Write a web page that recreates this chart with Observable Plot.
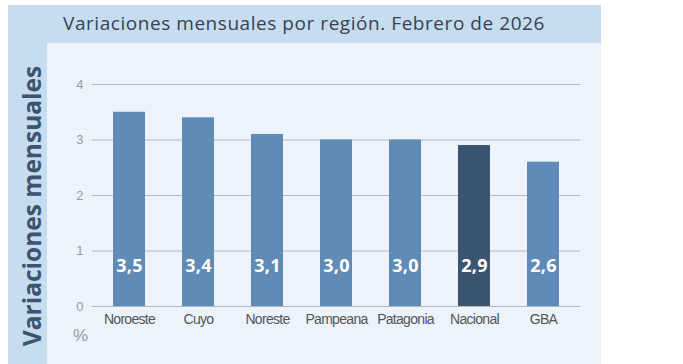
<!DOCTYPE html>
<html>
<head>
<meta charset="utf-8">
<script src="https://cdn.jsdelivr.net/npm/d3@7"></script>
<script src="https://cdn.jsdelivr.net/npm/@observablehq/plot@0.6"></script>
<style>
  html, body { margin: 0; padding: 0; background: #ffffff; }
  #wrap { position: relative; width: 683px; height: 364px; overflow: hidden; }
  .band { position: absolute; background: #c6dcef; }
  #panel { position: absolute; left: 47px; top: 43px; width: 554px; height: 321px; background: #ecf3fa; }
  #title { position: absolute; left: 63px; top: 11px; font-family: "Open Sans", sans-serif; font-size: 19px; letter-spacing: 0.55px; color: #3a4150; white-space: nowrap; line-height: 24px; }
  #ytitle { position: absolute; left: 8px; top: 43px; }
  #pct { position: absolute; left: 73px; top: 326px; font-family: "Liberation Sans", Arial, sans-serif; font-size: 17px; color: #9a9a9a; }
  #chart { position: absolute; left: 47px; top: 43px; }
  #chart g[aria-label="x-axis tick label"] { letter-spacing: -0.7px; }
  #chart g[aria-label="text"] { letter-spacing: 0.3px; }
</style>
</head>
<body>
<div id="wrap">
  <div class="band" style="left:8px;top:5px;width:593px;height:38px;"></div>
  <div class="band" style="left:8px;top:43px;width:39px;height:321px;"></div>
  <div id="panel"></div>
  <div id="title">Variaciones mensuales por región. Febrero de 2026</div>
  <svg id="ytitle" width="39" height="321">
    <text transform="translate(26,163) rotate(-90)" text-anchor="middle" dominant-baseline="middle"
      font-family="Open Sans, sans-serif" font-weight="bold" font-size="24.5" fill="#3b5470">Variaciones mensuales</text>
  </svg>
  <div id="chart"></div>
  <div id="pct">%</div>
</div>
<script>
const regions = ["Noroeste", "Cuyo", "Noreste", "Pampeana", "Patagonia", "Nacional", "GBA"];
const values = [3.5, 3.4, 3.1, 3.0, 3.0, 2.9, 2.6];
const yTicks = [0, 1, 2, 3, 4];
const highlight = "Nacional";

const data = regions.map((r, i) => ({region: r, value: values[i]}));
const fmt = v => d3.format(".1f")(v).replace(".", ",");

const chart = Plot.plot({
  width: 554,
  height: 321,
  marginLeft: 45,
  marginRight: 21,
  marginTop: 41,
  marginBottom: 58,
  style: {background: "transparent", overflow: "visible"},
  x: {domain: regions, paddingInner: 0.53, paddingOuter: 0.26, label: null},
  y: {domain: [0, 4], label: null},
  marks: [
    Plot.ruleY(yTicks, {stroke: "#b8b8b8", strokeWidth: 1}),
    Plot.barY(data, {x: "region", y: "value", fill: d => d.region === highlight ? "#3b5470" : "#5f8bb6"}),
    Plot.text(data, {x: "region", y: 0, dy: -40, text: d => fmt(d.value), fill: "white",
      fontSize: 18, fontWeight: "bold", fontFamily: "Open Sans, sans-serif"}),
    Plot.axisY({ticks: yTicks, tickFormat: "d", tickSize: 0, tickPadding: 9, fontSize: 13, fill: "#9a9a9a",
      fontFamily: "Liberation Sans, Arial, sans-serif", label: null}),
    Plot.axisX({tickSize: 0, tickPadding: 8, fontSize: 14, fill: "#555",
      fontFamily: "Liberation Sans Narrow, Arial Narrow, Liberation Sans, sans-serif", label: null})
  ]
});
document.getElementById("chart").appendChild(chart);
</script>
</body>
</html>
